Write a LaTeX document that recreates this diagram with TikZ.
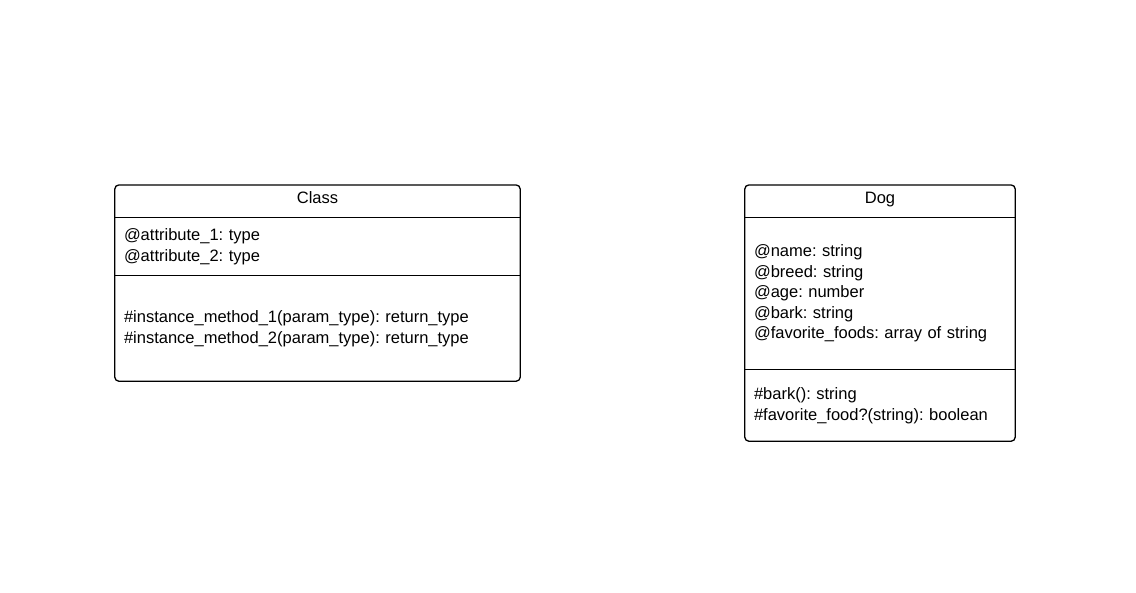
\documentclass[tikz,border=0pt]{standalone}
\usepackage{fontspec}
\setmainfont{Liberation Sans}
\usetikzlibrary{positioning}
\usetikzlibrary{fit}
\frenchspacing
\begin{document}
\begin{tikzpicture}[x=1pt, y=-1pt,
	font=\fontsize{16.5}{20.5}\selectfont,
	head/.style={inner sep=0pt, minimum height=32pt, text height=12pt, text depth=8pt, anchor=north},
	compart/.style={inner xsep=9pt, inner ysep=0pt, align=left, anchor=north},
	frame/.style={draw, line width=1.3pt, rounded corners=4pt, inner sep=0pt},
	divider/.style={line width=1.3pt}]
	
	\useasboundingbox (0,0) rectangle (1136,593);
	
	% generic class
	\node [head, minimum width=405pt] at (317.5,185) (classname) {Class};
	\node [compart, text width=387pt, minimum height=58pt, below=0pt of classname] (classattrs) {@attribute\_1: type\\@attribute\_2: type};
	\node [compart, text width=387pt, minimum height=105pt, below=0pt of classattrs] (classmethods) {\#instance\_method\_1(param\_type): return\_type\\\#instance\_method\_2(param\_type): return\_type};
	\node [frame, fit=(classname)(classmethods)] (classbox) {};
	
	\draw [divider] (classname.south west) -- (classname.south east);
	\draw [divider] (classattrs.south west) -- (classattrs.south east);
	
	% dog class
	\node [head, minimum width=270pt] at (880,185) (dogname) {Dog};
	\node [compart, text width=252pt, minimum height=152pt, below=0pt of dogname] (dogattrs) {@name: string\\@breed: string\\@age: number\\@bark: string\\@favorite\_foods: array of string};
	\node [compart, text width=252pt, minimum height=71pt, below=0pt of dogattrs] (dogmethods) {\#bark(): string\\\#favorite\_food?(string): boolean};
	\node [frame, fit=(dogname)(dogmethods)] (dogbox) {};
	
	\draw [divider] (dogname.south west) -- (dogname.south east);
	\draw [divider] (dogattrs.south west) -- (dogattrs.south east);
	
\end{tikzpicture}
\end{document}
